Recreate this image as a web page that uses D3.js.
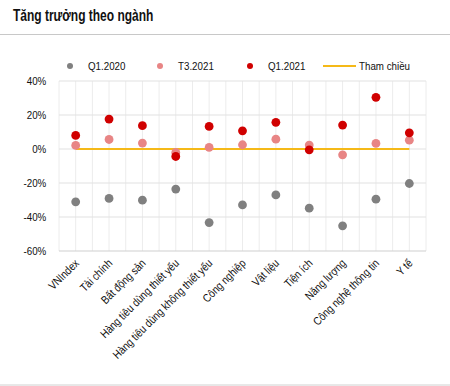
<!DOCTYPE html>
<html>
<head>
<meta charset="utf-8">
<script src="https://cdn.jsdelivr.net/npm/d3@7"></script>
<style>
  body { margin: 0; background: #fff; }
  text { font-family: "Liberation Sans", Arial, sans-serif; }
</style>
</head>
<body>
<div class="canvas"></div>
<script>
// data (growth, %)
const categories = ["VNIndex", "Tài chính", "Bất động sản", "Hàng tiêu dùng thiết yếu",
  "Hàng tiêu dùng không thiết yếu", "Công nghiệp", "Vật liệu", "Tiện ích",
  "Năng lượng", "Công nghệ thông tin", "Y tế"];
const q12020 = [-31.1, -29.1, -30.1, -23.6, -43.3, -32.9, -27.0, -34.8, -45.2, -29.5, -20.3];
const t32021 = [2.1, 5.6, 3.5, -2.0, 0.9, 2.5, 5.8, 2.3, -3.4, 3.3, 5.2];
const q12021 = [8.0, 17.6, 13.7, -4.4, 13.3, 10.7, 15.7, -0.5, 14.1, 30.4, 9.5];
const reference = 0;
const yTicks = [-60, -40, -20, 0, 20, 40];

const series = [
  { name: "Q1.2020", values: q12020, color: "#808080" },
  { name: "T3.2021", values: t32021, color: "#e88585" },
  { name: "Q1.2021", values: q12021, color: "#d00000" }
];

// no narrow font installed, so squeeze the text horizontally
const narrow = 0.85;

const w = 450, h = 386;
const margin = { top: 81, right: 24, bottom: 135, left: 59 };
const gw = w - margin.left - margin.right;
const gh = h - margin.top - margin.bottom;

const svg = d3.select(".canvas").append("svg").attr("width", w).attr("height", h);

// title + separators
svg.append("text").attr("transform", "translate(13, 21) scale(0.75, 1)").text("Tăng trưởng theo ngành")
  .style("font-weight", "bold").style("font-size", "16px").attr("fill", "#111");
svg.append("line").attr("x1", 0).attr("x2", w).attr("y1", 34.5).attr("y2", 34.5)
  .attr("stroke", "#c8c8c8");
svg.append("line").attr("x1", 0).attr("x2", w).attr("y1", 385).attr("y2", 385)
  .attr("stroke", "#d0d0d0");

const graph = svg.append("g").attr("transform", `translate(${margin.left}, ${margin.top})`);

const x = d3.scaleBand().domain(categories).range([0, gw]);
const y = d3.scaleLinear().domain([-60, 40]).range([gh, 0]);

// vertical gridlines at every half band
const vlines = d3.range(0, categories.length * 2 + 1).map(i => i * x.bandwidth() / 2);
graph.selectAll(".vgrid").data(vlines).enter().append("line")
  .attr("x1", d => d).attr("x2", d => d).attr("y1", 0).attr("y2", gh)
  .attr("stroke", "#ececec");

// horizontal gridlines
graph.selectAll(".hgrid").data(yTicks).enter().append("line")
  .attr("x1", 0).attr("x2", gw).attr("y1", d => y(d)).attr("y2", d => y(d))
  .attr("stroke", d => d === -60 ? "#cfcfcf" : "#e2e2e2").attr("stroke-width", 1.2);

// y axis labels
const yAxis = d3.axisLeft(y).tickValues(yTicks).tickSize(0).tickPadding(15).tickFormat(d => d + "%");
const ya = graph.append("g").call(yAxis);
ya.select(".domain").remove();
ya.selectAll("text").style("font-size", "11.5px").attr("fill", "#111")
  .attr("transform", `scale(${narrow}, 1)`)
  .style("font-family", '"Liberation Sans", Arial, sans-serif');

// x axis labels rotated
const xAxis = d3.axisBottom(x).tickSize(0).tickPadding(0);
const xa = graph.append("g").attr("transform", `translate(0, ${gh})`).call(xAxis);
xa.select(".domain").remove();
xa.selectAll("text")
  .attr("text-anchor", "end").attr("dy", 0).attr("y", 0)
  .attr("transform", `translate(4, 13) rotate(-45) scale(${narrow}, 1)`)
  .style("font-size", "11.5px").attr("fill", "#111")
  .style("font-family", '"Liberation Sans", Arial, sans-serif');

// reference line
const cx = d => x(d) + x.bandwidth() / 2;
graph.append("line")
  .attr("x1", cx(categories[0])).attr("x2", cx(categories[categories.length - 1]))
  .attr("y1", y(reference)).attr("y2", y(reference))
  .attr("stroke", "#f5b918").attr("stroke-width", 2);

// dots
series.forEach(s => {
  graph.selectAll(null).data(s.values).enter().append("circle")
    .attr("cx", (d, i) => cx(categories[i]))
    .attr("cy", d => y(d))
    .attr("r", 4.4)
    .attr("fill", s.color);
});

// legend
const legend = svg.append("g").attr("transform", "translate(0, 66)");
const legendX = [70, 160, 250];
series.forEach((s, i) => {
  legend.append("circle").attr("cx", legendX[i]).attr("cy", 0).attr("r", 3).attr("fill", s.color);
  legend.append("text").attr("transform", `translate(${legendX[i] + 18}, 4) scale(${narrow}, 1)`)
    .text(s.name).style("font-size", "11.5px").attr("fill", "#111");
});
legend.append("line").attr("x1", 323).attr("x2", 356).attr("y1", 0).attr("y2", 0)
  .attr("stroke", "#f5b918").attr("stroke-width", 2);
legend.append("text").attr("transform", `translate(359, 4) scale(${narrow}, 1)`).text("Tham chiều")
  .style("font-size", "11.5px").attr("fill", "#111");
</script>
</body>
</html>
